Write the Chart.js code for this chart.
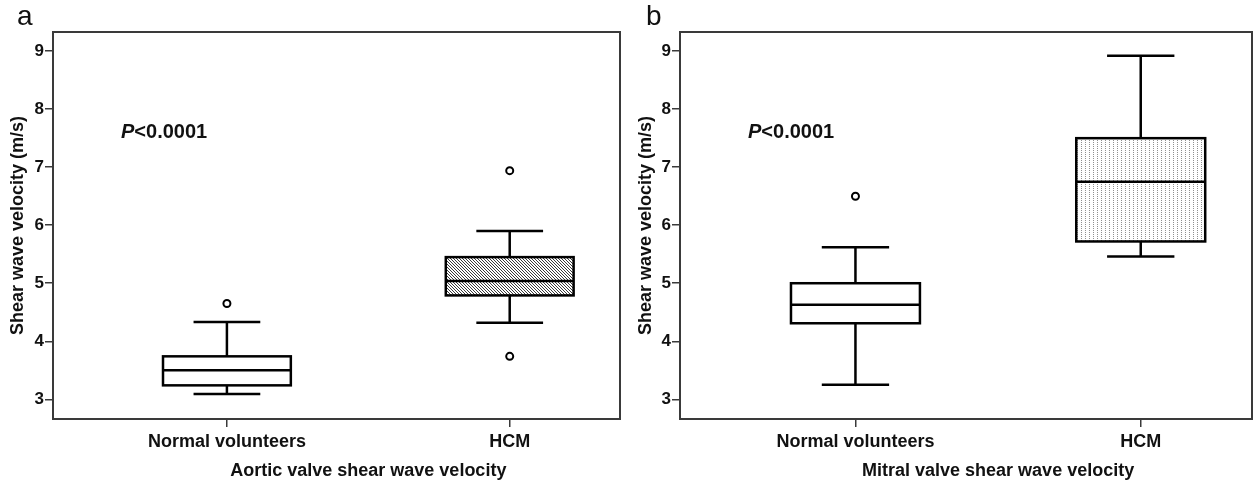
<!DOCTYPE html>
<html>
<head>
<meta charset="utf-8">
<script src="https://cdn.jsdelivr.net/npm/chart.js@4/dist/chart.umd.min.js"></script>
<style>
  body { margin: 0; background: #fff; }
  .wrap { display: flex; width: 1258px; height: 484px; }
  canvas { display: block; }
</style>
</head>
<body>
<div class="wrap">
  <canvas id="aorticChart" width="628" height="484"></canvas>
  <canvas id="mitralChart" width="630" height="484"></canvas>
</div>
<script>
// categories and positions on the x axis
const categories = ['Normal volunteers', 'HCM'];
const categoryPos = [1, 2];
const yTickValues = [3, 4, 5, 6, 7, 8, 9];

// panel a - aortic valve (m/s)
const aorticLow = [3.09, 4.32];
const aorticQ1 = [3.24, 4.79];
const aorticMedian = [3.50, 5.04];
const aorticQ3 = [3.74, 5.45];
const aorticHigh = [4.33, 5.90];
const aorticOutliers = [[4.65], [6.94, 3.74]];

// panel b - mitral valve (m/s)
const mitralLow = [3.25, 5.46];
const mitralQ1 = [4.31, 5.72];
const mitralMedian = [4.63, 6.75];
const mitralQ3 = [5.00, 7.50];
const mitralHigh = [5.62, 8.92];
const mitralOutliers = [[6.50], []];

const FONT = "'Liberation Sans', Arial, sans-serif";
const TEXT = '#111';
const FRAME = '#3a3a3a';

function makeTile(w, h, pixels, color) {
    const c = document.createElement('canvas');
    c.width = w;
    c.height = h;
    const g = c.getContext('2d');
    g.fillStyle = '#fff';
    g.fillRect(0, 0, w, h);
    g.fillStyle = color;
    pixels.forEach(p => g.fillRect(p[0], p[1], 1, 1));
    return c;
}

function makePanel(canvasId, panel) {
    const ctx = document.getElementById(canvasId).getContext('2d');

    // fill patterns for the HCM boxes
    let fills = ['#fff', '#fff'];
    if (panel.fill === 'hatch') {
        fills[1] = ctx.createPattern(makeTile(3, 3, [[0, 0], [1, 1], [2, 2]], '#3a3a3a'), 'repeat');
    } else if (panel.fill === 'dots') {
        fills[1] = ctx.createPattern(makeTile(4, 2, [[1, 0]], '#909090'), 'repeat');
    }

    const outlierPoints = [];
    panel.outliers.forEach((list, i) => {
        list.forEach(v => outlierPoints.push({ x: categoryPos[i], y: v }));
    });

    const boxPlugin = {
        id: 'boxes' + canvasId,
        beforeDatasetsDraw(chart) {
            const x = chart.scales.x;
            const y = chart.scales.y;
            const c = chart.ctx;
            c.save();
            c.strokeStyle = '#000';
            c.lineWidth = 2.5;
            categoryPos.forEach((pos, i) => {
                const xl = x.getPixelForValue(pos - 0.226);
                const xr = x.getPixelForValue(pos + 0.226);
                const xc = x.getPixelForValue(pos);
                const cl = x.getPixelForValue(pos - 0.118);
                const cr = x.getPixelForValue(pos + 0.118);
                const yq1 = y.getPixelForValue(panel.q1[i]);
                const yq3 = y.getPixelForValue(panel.q3[i]);
                const ymed = y.getPixelForValue(panel.median[i]);
                const ylo = y.getPixelForValue(panel.low[i]);
                const yhi = y.getPixelForValue(panel.high[i]);

                // whiskers
                c.beginPath();
                c.moveTo(xc, yq3); c.lineTo(xc, yhi);
                c.moveTo(cl, yhi); c.lineTo(cr, yhi);
                c.moveTo(xc, yq1); c.lineTo(xc, ylo);
                c.moveTo(cl, ylo); c.lineTo(cr, ylo);
                c.stroke();

                // box
                c.fillStyle = fills[i];
                c.fillRect(xl, yq3, xr - xl, yq1 - yq3);
                c.strokeRect(xl, yq3, xr - xl, yq1 - yq3);

                // median
                c.beginPath();
                c.moveTo(xl, ymed); c.lineTo(xr, ymed);
                c.stroke();
            });
            c.restore();
        },
        afterDraw(chart) {
            const area = chart.chartArea;
            const x = chart.scales.x;
            const c = chart.ctx;
            c.save();
            // frame
            c.strokeStyle = FRAME;
            c.lineWidth = 2;
            c.strokeRect(area.left, area.top, area.right - area.left, area.bottom - area.top);

            // x axis title, centred between the two groups
            const mid = (x.getPixelForValue(categoryPos[0]) + x.getPixelForValue(categoryPos[1])) / 2;
            c.fillStyle = TEXT;
            c.font = 'bold 18px ' + FONT;
            c.textAlign = 'center';
            c.textBaseline = 'alphabetic';
            c.fillText(panel.xTitle, mid, 476);

            // p value
            c.textAlign = 'left';
            const px = area.left + 68;
            c.font = 'italic bold 20px ' + FONT;
            c.fillText('P', px, 138);
            const pw = c.measureText('P').width;
            c.font = 'bold 20px ' + FONT;
            c.fillText('<0.0001', px + pw, 138);

            // panel letter
            c.font = '28px ' + FONT;
            c.fillText(panel.letter, panel.letterX, 25);
            c.restore();
        }
    };

    return new Chart(ctx, {
        type: 'scatter',
        data: {
            datasets: [{
                data: outlierPoints,
                pointRadius: 3.5,
                pointBorderWidth: 2,
                borderColor: '#000',
                backgroundColor: '#fff'
            }]
        },
        options: {
            responsive: false,
            animation: false,
            layout: {
                padding: { top: 32, right: panel.rightPad, bottom: 0, left: 0 }
            },
            plugins: {
                legend: { display: false },
                tooltip: { enabled: false }
            },
            scales: {
                x: {
                    type: 'linear',
                    min: 0.385,
                    max: 2.39,
                    afterBuildTicks: function(scale) {
                        scale.ticks = categoryPos.map(v => ({ value: v }));
                    },
                    afterFit: function(scale) {
                        scale.height = 65;
                    },
                    border: { display: false },
                    grid: {
                        drawOnChartArea: false,
                        drawTicks: true,
                        tickLength: 8,
                        color: FRAME,
                        lineWidth: 1.5
                    },
                    ticks: {
                        autoSkip: false,
                        maxRotation: 0,
                        padding: 4,
                        color: TEXT,
                        font: { family: FONT, size: 18, weight: 'bold' },
                        callback: function(value) {
                            return categories[categoryPos.indexOf(value)];
                        }
                    }
                },
                y: {
                    min: 2.66,
                    max: 9.33,
                    afterBuildTicks: function(scale) {
                        scale.ticks = yTickValues.map(v => ({ value: v }));
                    },
                    afterFit: function(scale) {
                        scale.width = panel.yWidth;
                    },
                    border: { display: false },
                    grid: {
                        drawOnChartArea: false,
                        drawTicks: true,
                        tickLength: 8,
                        color: FRAME,
                        lineWidth: 1.5
                    },
                    ticks: {
                        padding: 1,
                        color: TEXT,
                        font: { family: FONT, size: 17, weight: 'bold' }
                    },
                    title: {
                        display: true,
                        text: 'Shear wave velocity (m/s)',
                        color: TEXT,
                        padding: { top: 7, bottom: 0 },
                        font: { family: FONT, size: 18, weight: 'bold' }
                    }
                }
            }
        },
        plugins: [boxPlugin]
    });
}

makePanel('aorticChart', {
    low: aorticLow, q1: aorticQ1, median: aorticMedian, q3: aorticQ3, high: aorticHigh,
    outliers: aorticOutliers,
    fill: 'hatch',
    xTitle: 'Aortic valve shear wave velocity',
    letter: 'a', letterX: 17,
    yWidth: 53, rightPad: 8
});

makePanel('mitralChart', {
    low: mitralLow, q1: mitralQ1, median: mitralMedian, q3: mitralQ3, high: mitralHigh,
    outliers: mitralOutliers,
    fill: 'dots',
    xTitle: 'Mitral valve shear wave velocity',
    letter: 'b', letterX: 18,
    yWidth: 52, rightPad: 2
});
</script>
</body>
</html>
